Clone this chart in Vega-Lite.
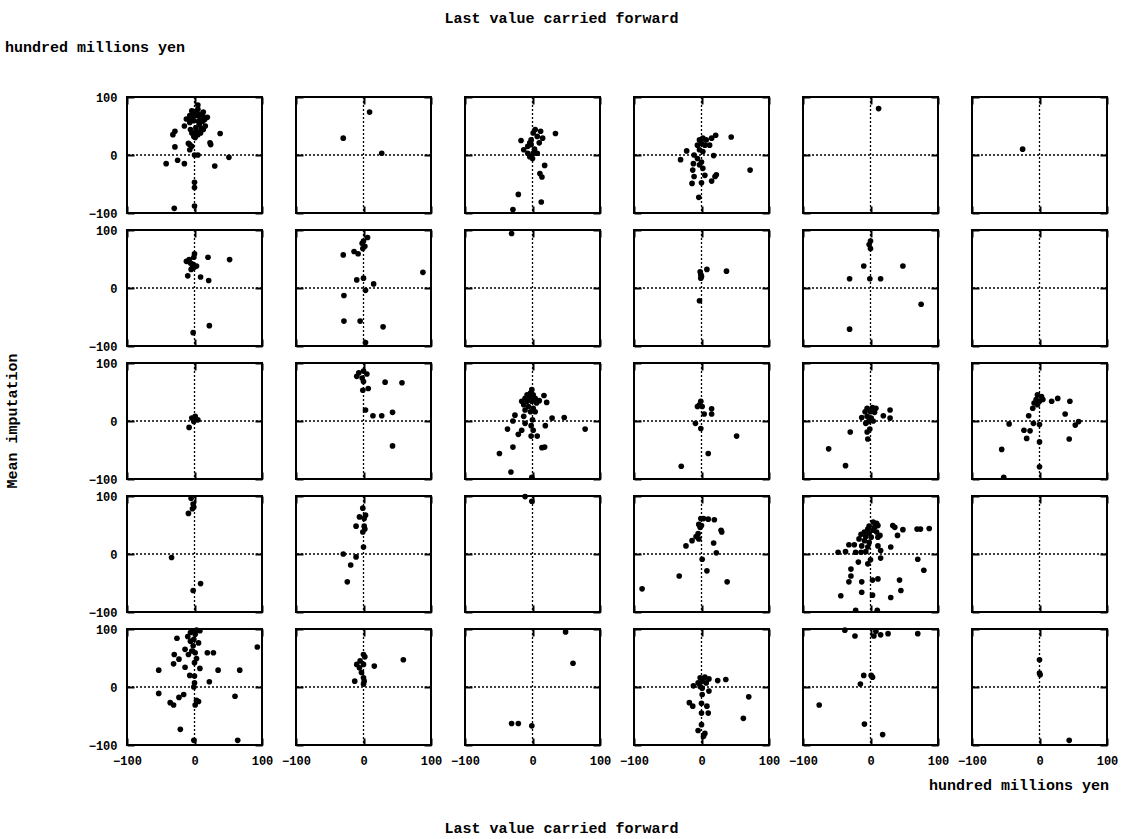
{
  "$schema": "https://vega.github.io/schema/vega-lite/v6.json",
  "background": "white",
  "padding": {"left": 5, "top": 11, "right": 5, "bottom": 5},
  "title": {"text": "Last value carried forward", "anchor": "middle", "offset": 14},
  "data": {
    "values": [
      {"r":1,"c":1,"x":-4,"y":76},{"r":1,"c":1,"x":5,"y":79},{"r":1,"c":1,"x":13,"y":74},{"r":1,"c":1,"x":19,"y":65},{"r":1,"c":1,"x":-7,"y":68},
      {"r":1,"c":1,"x":2,"y":68},{"r":1,"c":1,"x":-12,"y":62},{"r":1,"c":1,"x":10,"y":62},{"r":1,"c":1,"x":-1,"y":59},{"r":1,"c":1,"x":7,"y":53},
      {"r":1,"c":1,"x":16,"y":50},{"r":1,"c":1,"x":2,"y":47},{"r":1,"c":1,"x":-7,"y":56},{"r":1,"c":1,"x":5,"y":86},{"r":1,"c":1,"x":8,"y":70},
      {"r":1,"c":1,"x":-2,"y":72},{"r":1,"c":1,"x":12,"y":58},{"r":1,"c":1,"x":-15,"y":50},{"r":1,"c":1,"x":-29,"y":41},{"r":1,"c":1,"x":-32,"y":35},
      {"r":1,"c":1,"x":-4,"y":38},{"r":1,"c":1,"x":5,"y":35},{"r":1,"c":1,"x":13,"y":44},{"r":1,"c":1,"x":-1,"y":32},{"r":1,"c":1,"x":2,"y":41},
      {"r":1,"c":1,"x":38,"y":37},{"r":1,"c":1,"x":23,"y":21},{"r":1,"c":1,"x":24,"y":18},{"r":1,"c":1,"x":-7,"y":18},{"r":1,"c":1,"x":-7,"y":9},
      {"r":1,"c":1,"x":-4,"y":15},{"r":1,"c":1,"x":-29,"y":14},{"r":1,"c":1,"x":0,"y":0},{"r":1,"c":1,"x":5,"y":0},{"r":1,"c":1,"x":51,"y":-4},
      {"r":1,"c":1,"x":30,"y":-19},{"r":1,"c":1,"x":-25,"y":-9},{"r":1,"c":1,"x":-15,"y":-15},{"r":1,"c":1,"x":-42,"y":-15},{"r":1,"c":1,"x":0,"y":-47},
      {"r":1,"c":1,"x":0,"y":-56},{"r":1,"c":1,"x":0,"y":-88},{"r":1,"c":1,"x":-30,"y":-92},
      {"r":1,"c":1,"x":0,"y":75},{"r":1,"c":1,"x":3,"y":71},{"r":1,"c":1,"x":-5,"y":64},{"r":1,"c":1,"x":8,"y":65},{"r":1,"c":1,"x":12,"y":68},
      {"r":1,"c":1,"x":15,"y":61},{"r":1,"c":1,"x":6,"y":58},{"r":1,"c":1,"x":-3,"y":62},{"r":1,"c":1,"x":10,"y":46},{"r":1,"c":1,"x":4,"y":40},
      {"r":1,"c":1,"x":-6,"y":44},{"r":1,"c":1,"x":9,"y":38},{"r":1,"c":1,"x":1,"y":30},{"r":1,"c":1,"x":-9,"y":20},
      {"r":1,"c":2,"x":-30,"y":29},{"r":1,"c":2,"x":9,"y":74},{"r":1,"c":2,"x":27,"y":3},
      {"r":1,"c":3,"x":-17,"y":25},{"r":1,"c":3,"x":-13,"y":9},{"r":1,"c":3,"x":-7,"y":15},{"r":1,"c":3,"x":-2,"y":26},{"r":1,"c":3,"x":1,"y":38},
      {"r":1,"c":3,"x":7,"y":32},{"r":1,"c":3,"x":4,"y":44},{"r":1,"c":3,"x":-4,"y":21},{"r":1,"c":3,"x":10,"y":21},{"r":1,"c":3,"x":15,"y":29},
      {"r":1,"c":3,"x":12,"y":41},{"r":1,"c":3,"x":-7,"y":3},{"r":1,"c":3,"x":1,"y":3},{"r":1,"c":3,"x":7,"y":3},{"r":1,"c":3,"x":0,"y":-6},
      {"r":1,"c":3,"x":-4,"y":-3},{"r":1,"c":3,"x":18,"y":-18},{"r":1,"c":3,"x":11,"y":-32},{"r":1,"c":3,"x":14,"y":-38},{"r":1,"c":3,"x":-21,"y":-68},
      {"r":1,"c":3,"x":-29,"y":-94},{"r":1,"c":3,"x":13,"y":-81},{"r":1,"c":3,"x":34,"y":37},{"r":1,"c":3,"x":-2,"y":18},{"r":1,"c":3,"x":3,"y":10},
      {"r":1,"c":4,"x":21,"y":34},{"r":1,"c":4,"x":44,"y":31},{"r":1,"c":4,"x":15,"y":29},{"r":1,"c":4,"x":7,"y":26},{"r":1,"c":4,"x":-3,"y":26},
      {"r":1,"c":4,"x":2,"y":29},{"r":1,"c":4,"x":0,"y":20},{"r":1,"c":4,"x":5,"y":17},{"r":1,"c":4,"x":-6,"y":17},{"r":1,"c":4,"x":12,"y":17},
      {"r":1,"c":4,"x":-22,"y":7},{"r":1,"c":4,"x":-31,"y":-8},{"r":1,"c":4,"x":-11,"y":0},{"r":1,"c":4,"x":18,"y":-1},{"r":1,"c":4,"x":-3,"y":9},
      {"r":1,"c":4,"x":2,"y":6},{"r":1,"c":4,"x":-6,"y":-6},{"r":1,"c":4,"x":0,"y":-12},{"r":1,"c":4,"x":-12,"y":-15},{"r":1,"c":4,"x":-3,"y":-17},
      {"r":1,"c":4,"x":2,"y":-23},{"r":1,"c":4,"x":-13,"y":-26},{"r":1,"c":4,"x":-11,"y":-37},{"r":1,"c":4,"x":5,"y":-35},{"r":1,"c":4,"x":20,"y":-37},
      {"r":1,"c":4,"x":22,"y":-34},{"r":1,"c":4,"x":15,"y":-45},{"r":1,"c":4,"x":-14,"y":-49},{"r":1,"c":4,"x":0,"y":-48},{"r":1,"c":4,"x":-4,"y":-73},
      {"r":1,"c":4,"x":72,"y":-26},
      {"r":1,"c":5,"x":12,"y":80},
      {"r":1,"c":6,"x":-25,"y":10},
      {"r":2,"c":1,"x":0,"y":59},{"r":2,"c":1,"x":-1,"y":53},{"r":2,"c":1,"x":-8,"y":49},{"r":2,"c":1,"x":-12,"y":46},{"r":2,"c":1,"x":-6,"y":43},
      {"r":2,"c":1,"x":-2,"y":41},{"r":2,"c":1,"x":3,"y":38},{"r":2,"c":1,"x":-3,"y":35},{"r":2,"c":1,"x":0,"y":36},{"r":2,"c":1,"x":-5,"y":32},
      {"r":2,"c":1,"x":20,"y":53},{"r":2,"c":1,"x":52,"y":49},{"r":2,"c":1,"x":-10,"y":21},{"r":2,"c":1,"x":9,"y":19},{"r":2,"c":1,"x":21,"y":13},
      {"r":2,"c":1,"x":22,"y":-65},{"r":2,"c":1,"x":-2,"y":-77},
      {"r":2,"c":2,"x":6,"y":87},{"r":2,"c":2,"x":0,"y":81},{"r":2,"c":2,"x":-2,"y":77},{"r":2,"c":2,"x":2,"y":72},{"r":2,"c":2,"x":-1,"y":68},
      {"r":2,"c":2,"x":-14,"y":63},{"r":2,"c":2,"x":-8,"y":59},{"r":2,"c":2,"x":-30,"y":57},{"r":2,"c":2,"x":88,"y":27},{"r":2,"c":2,"x":-10,"y":14},
      {"r":2,"c":2,"x":0,"y":17},{"r":2,"c":2,"x":15,"y":7},{"r":2,"c":2,"x":3,"y":-4},{"r":2,"c":2,"x":-29,"y":-13},{"r":2,"c":2,"x":-29,"y":-57},
      {"r":2,"c":2,"x":-5,"y":-57},{"r":2,"c":2,"x":29,"y":-67},{"r":2,"c":2,"x":3,"y":-94},
      {"r":2,"c":3,"x":-31,"y":94},
      {"r":2,"c":4,"x":-2,"y":28},{"r":2,"c":4,"x":8,"y":32},{"r":2,"c":4,"x":37,"y":29},{"r":2,"c":4,"x":-1,"y":23},{"r":2,"c":4,"x":-1,"y":17},
      {"r":2,"c":4,"x":0,"y":20},{"r":2,"c":4,"x":-3,"y":-22},
      {"r":2,"c":5,"x":0,"y":81},{"r":2,"c":5,"x":-2,"y":75},{"r":2,"c":5,"x":0,"y":68},{"r":2,"c":5,"x":-10,"y":38},{"r":2,"c":5,"x":48,"y":38},
      {"r":2,"c":5,"x":-31,"y":16},{"r":2,"c":5,"x":-1,"y":16},{"r":2,"c":5,"x":15,"y":16},{"r":2,"c":5,"x":75,"y":-28},{"r":2,"c":5,"x":-31,"y":-71},
      {"r":2,"c":6,"x":null,"y":null},
      {"r":3,"c":1,"x":-4,"y":5},{"r":3,"c":1,"x":1,"y":8},{"r":3,"c":1,"x":5,"y":2},{"r":3,"c":1,"x":-1,"y":-1},{"r":3,"c":1,"x":-8,"y":-11},
      {"r":3,"c":1,"x":0,"y":3},
      {"r":3,"c":2,"x":-7,"y":83},{"r":3,"c":2,"x":0,"y":86},{"r":3,"c":2,"x":5,"y":81},{"r":3,"c":2,"x":-2,"y":74},{"r":3,"c":2,"x":0,"y":68},
      {"r":3,"c":2,"x":-10,"y":77},{"r":3,"c":2,"x":-1,"y":53},{"r":3,"c":2,"x":7,"y":56},{"r":3,"c":2,"x":32,"y":67},{"r":3,"c":2,"x":57,"y":66},
      {"r":3,"c":2,"x":3,"y":19},{"r":3,"c":2,"x":14,"y":9},{"r":3,"c":2,"x":27,"y":9},{"r":3,"c":2,"x":43,"y":15},{"r":3,"c":2,"x":43,"y":-43},
      {"r":3,"c":3,"x":-1,"y":54},{"r":3,"c":3,"x":-3,"y":48},{"r":3,"c":3,"x":-8,"y":45},{"r":3,"c":3,"x":1,"y":45},{"r":3,"c":3,"x":-11,"y":39},
      {"r":3,"c":3,"x":-3,"y":39},{"r":3,"c":3,"x":4,"y":39},{"r":3,"c":3,"x":-16,"y":34},{"r":3,"c":3,"x":-8,"y":34},{"r":3,"c":3,"x":-1,"y":34},
      {"r":3,"c":3,"x":6,"y":31},{"r":3,"c":3,"x":-13,"y":28},{"r":3,"c":3,"x":-6,"y":25},{"r":3,"c":3,"x":1,"y":22},{"r":3,"c":3,"x":-11,"y":19},
      {"r":3,"c":3,"x":-3,"y":16},{"r":3,"c":3,"x":4,"y":16},{"r":3,"c":3,"x":17,"y":44},{"r":3,"c":3,"x":21,"y":32},{"r":3,"c":3,"x":10,"y":35},
      {"r":3,"c":3,"x":-13,"y":8},{"r":3,"c":3,"x":-26,"y":10},{"r":3,"c":3,"x":-29,"y":0},{"r":3,"c":3,"x":0,"y":2},{"r":3,"c":3,"x":-11,"y":-4},
      {"r":3,"c":3,"x":-2,"y":-8},{"r":3,"c":3,"x":1,"y":-16},{"r":3,"c":3,"x":-37,"y":-14},{"r":3,"c":3,"x":-16,"y":-16},{"r":3,"c":3,"x":-21,"y":-23},
      {"r":3,"c":3,"x":19,"y":-8},{"r":3,"c":3,"x":29,"y":5},{"r":3,"c":3,"x":47,"y":6},{"r":3,"c":3,"x":78,"y":-14},{"r":3,"c":3,"x":7,"y":-26},
      {"r":3,"c":3,"x":-2,"y":-26},{"r":3,"c":3,"x":-29,"y":-45},{"r":3,"c":3,"x":14,"y":-46},{"r":3,"c":3,"x":18,"y":-45},{"r":3,"c":3,"x":-49,"y":-56},
      {"r":3,"c":3,"x":-32,"y":-88},{"r":3,"c":3,"x":-1,"y":-97},
      {"r":3,"c":4,"x":-1,"y":34},{"r":3,"c":4,"x":-3,"y":28},{"r":3,"c":4,"x":1,"y":25},{"r":3,"c":4,"x":-6,"y":25},{"r":3,"c":4,"x":4,"y":12},
      {"r":3,"c":4,"x":15,"y":21},{"r":3,"c":4,"x":15,"y":12},{"r":3,"c":4,"x":-9,"y":-4},{"r":3,"c":4,"x":-1,"y":-13},{"r":3,"c":4,"x":52,"y":-26},
      {"r":3,"c":4,"x":10,"y":-56},{"r":3,"c":4,"x":-30,"y":-78},
      {"r":3,"c":5,"x":-5,"y":22},{"r":3,"c":5,"x":3,"y":23},{"r":3,"c":5,"x":8,"y":22},{"r":3,"c":5,"x":-8,"y":16},{"r":3,"c":5,"x":0,"y":16},
      {"r":3,"c":5,"x":6,"y":15},{"r":3,"c":5,"x":-13,"y":6},{"r":3,"c":5,"x":-5,"y":8},{"r":3,"c":5,"x":1,"y":5},{"r":3,"c":5,"x":-3,"y":-1},
      {"r":3,"c":5,"x":4,"y":0},{"r":3,"c":5,"x":-7,"y":-4},{"r":3,"c":5,"x":19,"y":9},{"r":3,"c":5,"x":29,"y":19},{"r":3,"c":5,"x":29,"y":5},
      {"r":3,"c":5,"x":-1,"y":-14},{"r":3,"c":5,"x":-5,"y":-19},{"r":3,"c":5,"x":-4,"y":-31},{"r":3,"c":5,"x":-30,"y":-19},{"r":3,"c":5,"x":-62,"y":-48},
      {"r":3,"c":5,"x":-37,"y":-77},
      {"r":3,"c":6,"x":-3,"y":45},{"r":3,"c":6,"x":3,"y":42},{"r":3,"c":6,"x":-5,"y":37},{"r":3,"c":6,"x":0,"y":34},{"r":3,"c":6,"x":-8,"y":31},
      {"r":3,"c":6,"x":5,"y":37},{"r":3,"c":6,"x":-3,"y":28},{"r":3,"c":6,"x":-10,"y":22},{"r":3,"c":6,"x":18,"y":34},{"r":3,"c":6,"x":27,"y":39},
      {"r":3,"c":6,"x":45,"y":34},{"r":3,"c":6,"x":38,"y":12},{"r":3,"c":6,"x":-16,"y":9},{"r":3,"c":6,"x":-45,"y":-5},{"r":3,"c":6,"x":-9,"y":-4},
      {"r":3,"c":6,"x":0,"y":-6},{"r":3,"c":6,"x":53,"y":-7},{"r":3,"c":6,"x":58,"y":-1},{"r":3,"c":6,"x":-23,"y":-16},{"r":3,"c":6,"x":-14,"y":-17},
      {"r":3,"c":6,"x":-19,"y":-30},{"r":3,"c":6,"x":44,"y":-31},{"r":3,"c":6,"x":0,"y":-36},{"r":3,"c":6,"x":-56,"y":-49},{"r":3,"c":6,"x":0,"y":-79},
      {"r":3,"c":6,"x":-53,"y":-97},
      {"r":4,"c":1,"x":-5,"y":96},{"r":4,"c":1,"x":-2,"y":86},{"r":4,"c":1,"x":-1,"y":81},{"r":4,"c":1,"x":-3,"y":78},{"r":4,"c":1,"x":-9,"y":70},
      {"r":4,"c":1,"x":-34,"y":-6},{"r":4,"c":1,"x":9,"y":-51},{"r":4,"c":1,"x":-2,"y":-63},
      {"r":4,"c":2,"x":-1,"y":79},{"r":4,"c":2,"x":-6,"y":64},{"r":4,"c":2,"x":3,"y":67},{"r":4,"c":2,"x":1,"y":61},{"r":4,"c":2,"x":-11,"y":48},
      {"r":4,"c":2,"x":1,"y":48},{"r":4,"c":2,"x":2,"y":43},{"r":4,"c":2,"x":-1,"y":38},{"r":4,"c":2,"x":0,"y":12},{"r":4,"c":2,"x":-30,"y":0},
      {"r":4,"c":2,"x":-11,"y":-5},{"r":4,"c":2,"x":-19,"y":-19},{"r":4,"c":2,"x":-24,"y":-48},
      {"r":4,"c":3,"x":-1,"y":91},{"r":4,"c":3,"x":-11,"y":99},
      {"r":4,"c":4,"x":-1,"y":61},{"r":4,"c":4,"x":3,"y":61},{"r":4,"c":4,"x":10,"y":60},{"r":4,"c":4,"x":19,"y":59},{"r":4,"c":4,"x":-4,"y":51},
      {"r":4,"c":4,"x":-2,"y":46},{"r":4,"c":4,"x":0,"y":49},{"r":4,"c":4,"x":29,"y":41},{"r":4,"c":4,"x":30,"y":38},{"r":4,"c":4,"x":-5,"y":35},
      {"r":4,"c":4,"x":-8,"y":30},{"r":4,"c":4,"x":-14,"y":23},{"r":4,"c":4,"x":-4,"y":26},{"r":4,"c":4,"x":-23,"y":14},{"r":4,"c":4,"x":18,"y":19},
      {"r":4,"c":4,"x":22,"y":2},{"r":4,"c":4,"x":1,"y":-9},{"r":4,"c":4,"x":8,"y":-29},{"r":4,"c":4,"x":-33,"y":-38},{"r":4,"c":4,"x":38,"y":-48},
      {"r":4,"c":4,"x":-88,"y":-60},
      {"r":4,"c":5,"x":4,"y":55},{"r":4,"c":5,"x":9,"y":53},{"r":4,"c":5,"x":11,"y":49},{"r":4,"c":5,"x":-2,"y":48},{"r":4,"c":5,"x":6,"y":46},
      {"r":4,"c":5,"x":-4,"y":43},{"r":4,"c":5,"x":4,"y":41},{"r":4,"c":5,"x":-9,"y":38},{"r":4,"c":5,"x":-2,"y":36},{"r":4,"c":5,"x":9,"y":38},
      {"r":4,"c":5,"x":-14,"y":34},{"r":4,"c":5,"x":-7,"y":30},{"r":4,"c":5,"x":1,"y":29},{"r":4,"c":5,"x":11,"y":29},{"r":4,"c":5,"x":-17,"y":26},
      {"r":4,"c":5,"x":-9,"y":23},{"r":4,"c":5,"x":-2,"y":20},{"r":4,"c":5,"x":-13,"y":14},{"r":4,"c":5,"x":-4,"y":12},{"r":4,"c":5,"x":-22,"y":3},
      {"r":4,"c":5,"x":-14,"y":3},{"r":4,"c":5,"x":-7,"y":4},{"r":4,"c":5,"x":-32,"y":16},{"r":4,"c":5,"x":-37,"y":4},{"r":4,"c":5,"x":-48,"y":3},
      {"r":4,"c":5,"x":-24,"y":16},{"r":4,"c":5,"x":11,"y":14},{"r":4,"c":5,"x":15,"y":6},{"r":4,"c":5,"x":15,"y":-7},{"r":4,"c":5,"x":30,"y":12},
      {"r":4,"c":5,"x":14,"y":32},{"r":4,"c":5,"x":33,"y":49},{"r":4,"c":5,"x":36,"y":46},{"r":4,"c":5,"x":40,"y":32},{"r":4,"c":5,"x":48,"y":42},
      {"r":4,"c":5,"x":69,"y":43},{"r":4,"c":5,"x":74,"y":43},{"r":4,"c":5,"x":87,"y":44},{"r":4,"c":5,"x":70,"y":-9},{"r":4,"c":5,"x":79,"y":-28},
      {"r":4,"c":5,"x":-18,"y":-14},{"r":4,"c":5,"x":-4,"y":-17},{"r":4,"c":5,"x":0,"y":-10},{"r":4,"c":5,"x":-29,"y":-26},{"r":4,"c":5,"x":-29,"y":-38},
      {"r":4,"c":5,"x":-32,"y":-48},{"r":4,"c":5,"x":-13,"y":-48},{"r":4,"c":5,"x":3,"y":-45},{"r":4,"c":5,"x":11,"y":-43},{"r":4,"c":5,"x":43,"y":-45},
      {"r":4,"c":5,"x":45,"y":-63},{"r":4,"c":5,"x":-13,"y":-66},{"r":4,"c":5,"x":-44,"y":-72},{"r":4,"c":5,"x":3,"y":-71},{"r":4,"c":5,"x":30,"y":-75},
      {"r":4,"c":5,"x":-22,"y":-97},{"r":4,"c":5,"x":10,"y":-97},
      {"r":4,"c":6,"x":null,"y":null},
      {"r":5,"c":1,"x":-1,"y":97},{"r":5,"c":1,"x":3,"y":98},{"r":5,"c":1,"x":8,"y":97},{"r":5,"c":1,"x":-6,"y":94},{"r":5,"c":1,"x":1,"y":91},
      {"r":5,"c":1,"x":-10,"y":87},{"r":5,"c":1,"x":-26,"y":84},{"r":5,"c":1,"x":-1,"y":82},{"r":5,"c":1,"x":-6,"y":79},{"r":5,"c":1,"x":6,"y":76},
      {"r":5,"c":1,"x":-2,"y":71},{"r":5,"c":1,"x":-14,"y":65},{"r":5,"c":1,"x":-4,"y":62},{"r":5,"c":1,"x":-9,"y":56},{"r":5,"c":1,"x":1,"y":59},
      {"r":5,"c":1,"x":-30,"y":56},{"r":5,"c":1,"x":-23,"y":48},{"r":5,"c":1,"x":-31,"y":40},{"r":5,"c":1,"x":3,"y":49},{"r":5,"c":1,"x":-14,"y":34},
      {"r":5,"c":1,"x":0,"y":42},{"r":5,"c":1,"x":8,"y":32},{"r":5,"c":1,"x":19,"y":59},{"r":5,"c":1,"x":28,"y":59},{"r":5,"c":1,"x":93,"y":69},
      {"r":5,"c":1,"x":-53,"y":29},{"r":5,"c":1,"x":35,"y":29},{"r":5,"c":1,"x":67,"y":29},{"r":5,"c":1,"x":-7,"y":20},{"r":5,"c":1,"x":0,"y":19},
      {"r":5,"c":1,"x":22,"y":9},{"r":5,"c":1,"x":0,"y":7},{"r":5,"c":1,"x":-1,"y":0},{"r":5,"c":1,"x":-53,"y":-11},{"r":5,"c":1,"x":-16,"y":-13},
      {"r":5,"c":1,"x":-23,"y":-18},{"r":5,"c":1,"x":-36,"y":-27},{"r":5,"c":1,"x":-31,"y":-31},{"r":5,"c":1,"x":3,"y":-23},{"r":5,"c":1,"x":6,"y":-25},
      {"r":5,"c":1,"x":1,"y":-31},{"r":5,"c":1,"x":60,"y":-16},{"r":5,"c":1,"x":-21,"y":-73},{"r":5,"c":1,"x":-1,"y":-92},{"r":5,"c":1,"x":64,"y":-92},
      {"r":5,"c":2,"x":0,"y":56},{"r":5,"c":2,"x":2,"y":52},{"r":5,"c":2,"x":-5,"y":45},{"r":5,"c":2,"x":-10,"y":39},{"r":5,"c":2,"x":-6,"y":33},
      {"r":5,"c":2,"x":0,"y":39},{"r":5,"c":2,"x":-3,"y":25},{"r":5,"c":2,"x":0,"y":16},{"r":5,"c":2,"x":-13,"y":10},{"r":5,"c":2,"x":1,"y":10},
      {"r":5,"c":2,"x":0,"y":5},{"r":5,"c":2,"x":16,"y":36},{"r":5,"c":2,"x":59,"y":47},
      {"r":5,"c":3,"x":49,"y":95},{"r":5,"c":3,"x":60,"y":41},{"r":5,"c":3,"x":-31,"y":-63},{"r":5,"c":3,"x":-21,"y":-63},{"r":5,"c":3,"x":-1,"y":-67},
      {"r":5,"c":4,"x":-2,"y":16},{"r":5,"c":4,"x":5,"y":17},{"r":5,"c":4,"x":11,"y":14},{"r":5,"c":4,"x":1,"y":10},{"r":5,"c":4,"x":-5,"y":7},
      {"r":5,"c":4,"x":-12,"y":2},{"r":5,"c":4,"x":7,"y":7},{"r":5,"c":4,"x":-2,"y":1},{"r":5,"c":4,"x":1,"y":-2},{"r":5,"c":4,"x":24,"y":11},
      {"r":5,"c":4,"x":36,"y":13},{"r":5,"c":4,"x":11,"y":-7},{"r":5,"c":4,"x":1,"y":-13},{"r":5,"c":4,"x":70,"y":-17},{"r":5,"c":4,"x":-18,"y":-27},
      {"r":5,"c":4,"x":-13,"y":-33},{"r":5,"c":4,"x":0,"y":-28},{"r":5,"c":4,"x":8,"y":-33},{"r":5,"c":4,"x":0,"y":-45},{"r":5,"c":4,"x":10,"y":-45},
      {"r":5,"c":4,"x":62,"y":-54},{"r":5,"c":4,"x":0,"y":-65},{"r":5,"c":4,"x":-5,"y":-75},{"r":5,"c":4,"x":5,"y":-80},{"r":5,"c":4,"x":3,"y":-85},
      {"r":5,"c":5,"x":-38,"y":98},{"r":5,"c":5,"x":-23,"y":88},{"r":5,"c":5,"x":8,"y":96},{"r":5,"c":5,"x":5,"y":88},{"r":5,"c":5,"x":15,"y":90},
      {"r":5,"c":5,"x":26,"y":92},{"r":5,"c":5,"x":70,"y":92},{"r":5,"c":5,"x":-10,"y":20},{"r":5,"c":5,"x":1,"y":20},{"r":5,"c":5,"x":3,"y":17},
      {"r":5,"c":5,"x":-15,"y":5},{"r":5,"c":5,"x":-76,"y":-31},{"r":5,"c":5,"x":-9,"y":-64},{"r":5,"c":5,"x":18,"y":-82},
      {"r":5,"c":6,"x":0,"y":47},{"r":5,"c":6,"x":0,"y":24},{"r":5,"c":6,"x":1,"y":21},{"r":5,"c":6,"x":44,"y":-92}
    ]
  },
  "vconcat": [
    {
      "title": {"text": "Last value carried forward", "orient": "bottom", "anchor": "middle", "offset": 28},
      "vconcat": [
        {
          "title": {"text": "hundred millions yen", "anchor": "start", "frame": "bounds", "offset": 36},
          "facet": {
            "row": {
              "field": "r",
              "type": "ordinal",
              "header": {"labels": false, "title": "Mean imputation", "titleOrient": "left", "titlePadding": 58}
            },
            "column": {
              "field": "c",
              "type": "ordinal",
              "header": {"labels": false, "title": "hundred millions yen", "titleOrient": "bottom", "titleAnchor": "end", "titlePadding": 2}
            }
          },
          "spacing": {"row": 10, "column": 30},
          "spec": {
            "width": 135,
            "height": 116,
            "layer": [
              {
                "transform": [{"aggregate": [{"op": "count", "as": "n"}]}],
                "mark": {"type": "rule", "color": "black", "strokeWidth": 1.3, "strokeDash": [2, 2]},
                "encoding": {"x": {"datum": 0, "type": "quantitative"}}
              },
              {
                "transform": [{"aggregate": [{"op": "count", "as": "n"}]}],
                "mark": {"type": "rule", "color": "black", "strokeWidth": 1.3, "strokeDash": [2, 2]},
                "encoding": {"y": {"datum": 0, "type": "quantitative"}}
              },
              {
                "mark": {"type": "point", "filled": true, "color": "black", "size": 32, "opacity": 1},
                "encoding": {
                  "x": {
                    "field": "x",
                    "type": "quantitative",
                    "scale": {"domain": [-100, 100], "nice": false},
                    "axis": {
                      "values": [-100, -75, -50, -25, 0, 25, 50, 75, 100],
                      "grid": true,
                      "gridColor": "#000000",
                      "gridOpacity": 1,
                      "gridWidth": 2,
                      "gridCap": "butt",
                      "gridDash": [7, 102, 7]
                    }
                  },
                  "y": {
                    "field": "y",
                    "type": "quantitative",
                    "scale": {"domain": [-100, 100], "nice": false},
                    "axis": {
                      "values": [-100, -75, -50, -25, 0, 25, 50, 75, 100],
                      "grid": true,
                      "gridColor": "#000000",
                      "gridOpacity": 1,
                      "gridWidth": 2,
                      "gridCap": "butt",
                      "gridDash": [7, 121, 7]
                    }
                  }
                }
              }
            ]
          }
        }
      ]
    }
  ],
  "config": {
    "font": "Liberation Mono",
    "view": {"stroke": "black", "strokeWidth": 2},
    "title": {"font": "Liberation Mono", "fontSize": 15, "fontWeight": "bold", "color": "black"},
    "header": {"titleFont": "Liberation Mono", "titleFontSize": 15, "titleFontWeight": "bold", "titleColor": "black"},
    "axis": {
      "title": null,
      "labelExpr": "datum.value % 100 === 0 ? datum.label : ''",
      "labelFont": "Liberation Mono",
      "labelFontSize": 12,
      "labelFontWeight": "bold",
      "labelColor": "black",
      "labelFlush": false,
      "labelOverlap": false,
      "labelPadding": 8,
      "domain": false,
      "ticks": false
    }
  }
}
